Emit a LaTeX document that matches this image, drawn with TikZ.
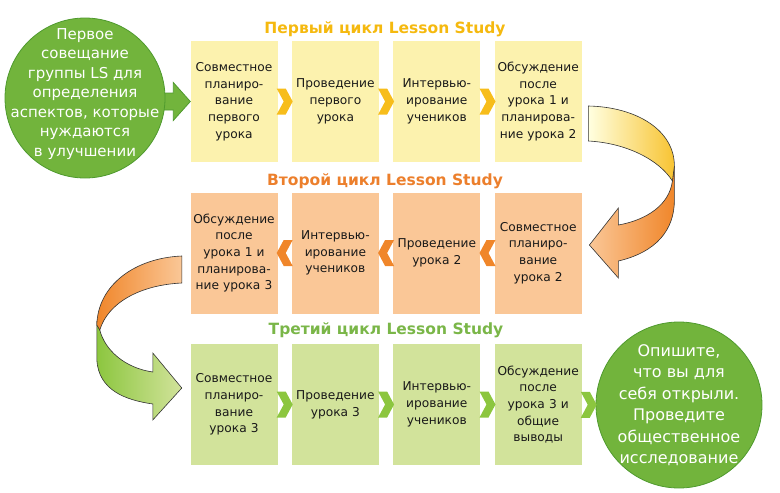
\documentclass[tikz,border=0pt]{standalone}
\usepackage{fontspec}
\setmainfont{DejaVu Sans}
\usetikzlibrary{positioning,calc,backgrounds}

\definecolor{boxy}{HTML}{FCF2AE}
\definecolor{boxo}{HTML}{FAC797}
\definecolor{boxg}{HTML}{D2E39B}
\definecolor{chevy}{HTML}{F7BD1B}
\definecolor{chevo}{HTML}{F0862A}
\definecolor{chevg}{HTML}{8CC63F}
\definecolor{titley}{HTML}{F5B90F}
\definecolor{titleo}{HTML}{EC7F2C}
\definecolor{titleg}{HTML}{7AB648}
\definecolor{ballfill}{HTML}{72B43C}
\definecolor{ballline}{HTML}{4F9A2E}

\tikzset{
  stepbox/.style={minimum width=87pt, minimum height=121pt, text width=85pt,
    align=center, inner sep=0pt, text=black!90,
    font=\fontsize{12.2}{16.7}\selectfont},
  cycletitle/.style={font=\fontsize{15.5}{18}\selectfont\bfseries, inner sep=0pt},
  ball/.style={circle, fill=ballfill, draw=ballline, line width=0.8pt, inner sep=0pt},
  balltext/.style={align=center, text=white, inner sep=0pt},
  blockarrow/.style={fill=ballfill, draw=ballline, line width=0.8pt, line join=miter},
  bentarrow/.style={draw=black!80, line width=0.6pt, line join=miter},
  pics/chevr/.style={code={
    \fill (-8,-13) -- (1,-13) -- (8,0) -- (1,13) -- (-8,13) -- (-1,0) -- cycle;}}
}

\begin{document}
\begin{tikzpicture}[x=1pt,y=-1pt]
  \useasboundingbox (0,0) rectangle (780,493);

  % cycle titles
  \node[cycletitle, text=titley] (t1) at (385,29) {Первый цикл Lesson Study};
  \node[cycletitle, text=titleo] (t2) at (385,181) {Второй цикл Lesson Study};
  \node[cycletitle, text=titleg] (t3) at (386,330) {Третий цикл Lesson Study};

  % first cycle
  \node[stepbox, fill=boxy] (r1c1) at (234,101.5) {Совместное\\планиро-\\вание\\первого\\урока};
  \node[stepbox, fill=boxy, right=14pt of r1c1] (r1c2) {Проведение\\первого\\урока};
  \node[stepbox, fill=boxy, right=14pt of r1c2] (r1c3) {Интервью-\\ирование\\учеников};
  \node[stepbox, fill=boxy, right=14pt of r1c3] (r1c4) {Обсуждение\\после\\урока 1 и\\планирова-\\ние урока 2};

  % second cycle (right to left)
  \node[stepbox, fill=boxo] (r2c1) at (234,253) {Обсуждение\\после\\урока 1 и\\планирова-\\ние урока 3};
  \node[stepbox, fill=boxo, right=14pt of r2c1] (r2c2) {Интервью-\\ирование\\учеников};
  \node[stepbox, fill=boxo, right=14pt of r2c2] (r2c3) {Проведение\\урока 2};
  \node[stepbox, fill=boxo, right=14pt of r2c3] (r2c4) {Совместное\\планиро-\\вание\\урока 2};

  % third cycle
  \node[stepbox, fill=boxg] (r3c1) at (234,404.5) {Совместное\\планиро-\\вание\\урока 3};
  \node[stepbox, fill=boxg, right=14pt of r3c1] (r3c2) {Проведение\\урока 3};
  \node[stepbox, fill=boxg, right=14pt of r3c2] (r3c3) {Интервью-\\ирование\\учеников};
  \node[stepbox, fill=boxg, right=14pt of r3c3] (r3c4) {Обсуждение\\после\\урока 3 и\\общие\\выводы};

  % start and finish circles
  \node[ball, minimum size=160pt] (start) at (85,98) {};
  \node[balltext, font=\fontsize{15}{19.5}\selectfont] (starttext) at ($(start)+(0,-4)$)
    {Первое\\совещание\\группы LS для\\определения\\аспектов, которые\\нуждаются\\в улучшении};
  \node[ball, minimum size=166pt] (finish) at (679,405) {};
  \node[balltext, font=\fontsize{16}{21.5}\selectfont] (finishtext) at (finish)
    {Опишите,\\что вы для\\себя открыли.\\Проведите\\общественное\\исследование};

  % arrow from the start circle
  \begin{scope}[on background layer]
    \draw[blockarrow] (r1c1.west) -- ++(-17,-19) -- ++(0,10.5) -- ++(-14,0)
      -- ++(0,17) -- ++(14,0) -- ++(0,10.5) -- cycle;
  \end{scope}

  % chevrons between steps
  \foreach \a/\b in {r1c1/r1c2,r1c2/r1c3,r1c3/r1c4}
    \pic[fill=chevy] at ($(\a.east)!0.5!(\b.west)$) {chevr};
  \foreach \a/\b in {r2c1/r2c2,r2c2/r2c3,r2c3/r2c4}
    \pic[fill=chevo, rotate=180] at ($(\a.east)!0.5!(\b.west)$) {chevr};
  \foreach \a/\b in {r3c1/r3c2,r3c2/r3c3,r3c3/r3c4,r3c4/finish}
    \pic[fill=chevg] at ($(\a.east)!0.5!(\b.west)$) {chevr};

  % bent arrow, first cycle to second
  \begin{scope}[shift={(r1c4.east)}]
    \draw[bentarrow, left color=boxo, right color=chevo]
      (90.5,79.5) .. controls (87.5,103.5) and (64.5,118.5) .. (36.5,123.5)
      -- (36.5,106.5) -- (7.5,143.5) -- (36.5,176.5) -- (36.5,159.5)
      .. controls (74.5,150.5) and (92.5,128.5) .. (92.5,98.5) -- (92.5,64.5) -- cycle;
    \draw[bentarrow, left color=yellow!12, right color=chevy!90]
      (6.5,4.5) .. controls (54.5,5.5) and (92.5,28.5) .. (92.5,64.5)
      -- (90.5,79.5) .. controls (77.5,58.5) and (44.5,41.5) .. (6.5,39.5) -- cycle;
  \end{scope}

  % bent arrow, second cycle to third
  \begin{scope}[shift={(r2c1.west)}]
    \draw[bentarrow, left color=chevg, right color=boxg]
      (-93.5,69) -- (-93.5,107) .. controls (-91.5,137) and (-65.5,147) .. (-37.5,151)
      -- (-37.5,167) -- (-8.5,135) -- (-37.5,100) -- (-37.5,119)
      .. controls (-65.5,115) and (-85.5,97) .. (-90.5,77) -- cycle;
    \draw[bentarrow, left color=chevo, right color=boxo]
      (-8.5,3) .. controls (-55.5,5) and (-92.5,32) .. (-93.5,72)
      -- (-90.5,77) .. controls (-82.5,50) and (-50.5,32) .. (-8.5,30) -- cycle;
  \end{scope}
\end{tikzpicture}
\end{document}
